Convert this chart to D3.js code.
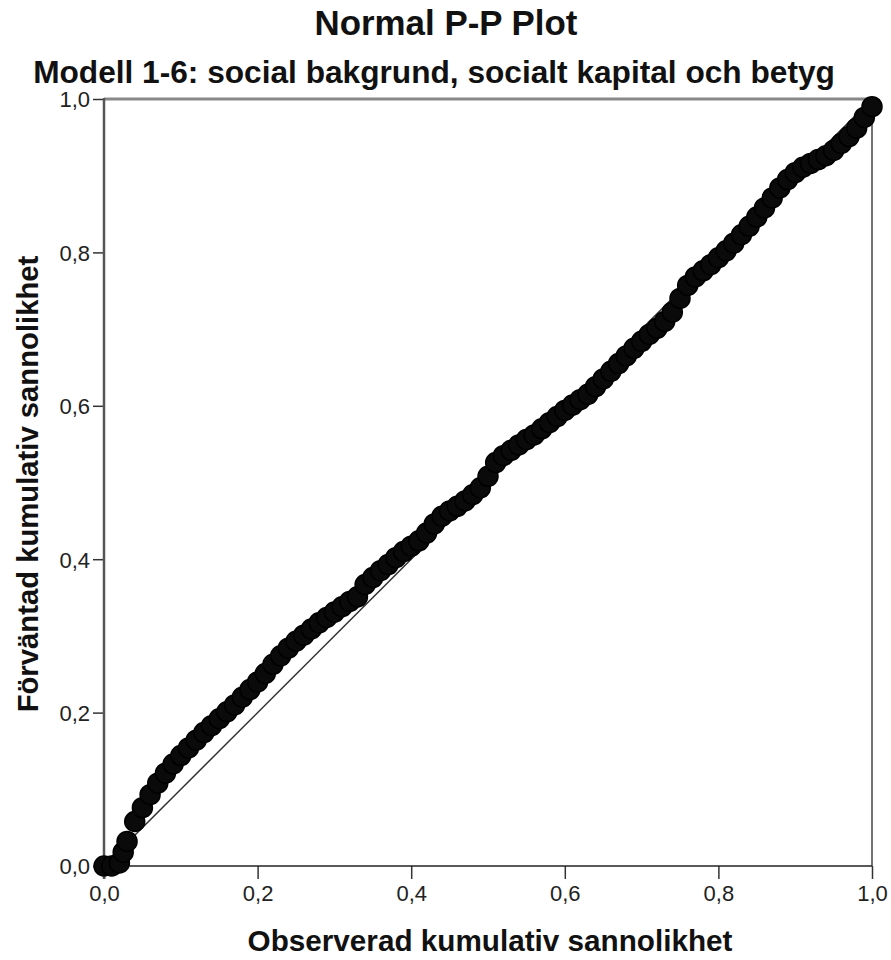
<!DOCTYPE html>
<html><head><meta charset="utf-8">
<script src="https://cdn.jsdelivr.net/npm/d3@7"></script>
<style>body{margin:0;background:#fff}svg{display:block}text{font-family:"Liberation Sans",Arial,sans-serif}</style>
</head><body>
<svg id="c" width="891" height="960"></svg>
<script>
const title = "Normal P-P Plot";
const subtitle = "Modell 1-6: social bakgrund, socialt kapital och betyg";
const xLabel = "Observerad kumulativ sannolikhet";
const yLabel = "Förväntad kumulativ sannolikhet";
const tickValues = [0, 0.2, 0.4, 0.6, 0.8, 1.0];
const tickLabels = ["0,0", "0,2", "0,4", "0,6", "0,8", "1,0"];

const observed = [0.00,0.01,0.02,0.025,0.03,0.04,0.05,0.06,0.07,0.08,0.09,
  0.10,0.11,0.12,0.13,0.14,0.15,0.16,0.17,0.18,0.19,
  0.20,0.21,0.22,0.23,0.24,0.25,0.26,0.27,0.28,0.29,
  0.30,0.31,0.32,0.33,0.34,0.35,0.36,0.37,0.38,0.39,
  0.40,0.41,0.42,0.43,0.44,0.45,0.46,0.47,0.48,0.49,
  0.50,0.51,0.52,0.53,0.54,0.55,0.56,0.57,0.58,0.59,
  0.60,0.61,0.62,0.63,0.64,0.65,0.66,0.67,0.68,0.69,
  0.70,0.71,0.72,0.73,0.74,0.75,0.76,0.77,0.78,0.79,
  0.80,0.81,0.82,0.83,0.84,0.85,0.86,0.87,0.88,0.89,
  0.90,0.91,0.92,0.93,0.94,0.95,0.96,0.97,0.98,0.99,1.00];
const expected = [0.000,0.000,0.004,0.018,0.032,0.058,0.076,0.093,0.108,0.121,0.133,
  0.144,0.154,0.164,0.174,0.183,0.192,0.201,0.210,0.220,0.230,
  0.240,0.251,0.263,0.274,0.284,0.293,0.301,0.309,0.317,0.324,
  0.331,0.338,0.345,0.351,0.367,0.376,0.385,0.393,0.402,0.410,
  0.417,0.424,0.434,0.446,0.456,0.463,0.469,0.476,0.484,0.493,
  0.508,0.526,0.535,0.542,0.549,0.556,0.562,0.570,0.578,0.586,
  0.594,0.601,0.608,0.615,0.625,0.635,0.645,0.655,0.665,0.675,
  0.684,0.693,0.701,0.710,0.722,0.740,0.757,0.768,0.776,0.784,
  0.793,0.802,0.812,0.823,0.834,0.846,0.858,0.871,0.884,0.895,
  0.904,0.911,0.916,0.921,0.926,0.933,0.942,0.951,0.962,0.976,0.990];

const svg = d3.select("#c");
const L = 104, R = 872, T = 99, B = 866;
const x = d3.scaleLinear().domain([0,1]).range([L,R]);
const y = d3.scaleLinear().domain([0,1]).range([B,T]);

function fitText(sel, w){
  const n = sel.node(); const cur = n.getComputedTextLength();
  const fs = parseFloat(sel.attr("font-size"));
  sel.attr("font-size", fs * w / cur);
}

// titles
const t1 = svg.append("text").attr("x", 446).attr("y", 35).attr("text-anchor","middle")
  .attr("font-size", 24).attr("font-weight","bold").attr("fill","#111").text(title);
fitText(t1, 263);
const t2 = svg.append("text").attr("x", 434).attr("y", 83).attr("text-anchor","middle")
  .attr("font-size", 24).attr("font-weight","bold").attr("fill","#111").text(subtitle);
fitText(t2, 802);

// axes
const xAxis = d3.axisBottom(x).tickValues(tickValues).tickSize(13).tickFormat((d,i)=>tickLabels[i]);
const yAxis = d3.axisLeft(y).tickValues(tickValues).tickSize(11).tickFormat((d,i)=>tickLabels[i]);
const gx = svg.append("g").attr("transform",`translate(0,${B})`).call(xAxis);
const gy = svg.append("g").attr("transform",`translate(${L},0)`).call(yAxis);
[gx, gy].forEach(g=>{
  g.select(".domain").remove();
  g.selectAll(".tick line").attr("stroke","#333").attr("stroke-width",1.5);
  g.selectAll(".tick text").attr("fill","#222").style("font-size","22px")
   .style("font-family",'"Liberation Sans",Arial,sans-serif');
});
gx.selectAll(".tick text").attr("dy","0.86em");
gy.selectAll(".tick text").attr("dx","0").attr("dy","0.36em");

// frame
svg.append("line").attr("x1",L).attr("x2",R+1).attr("y1",T).attr("y2",T).attr("stroke","#888").attr("stroke-width",3);
svg.append("line").attr("x1",R).attr("x2",R).attr("y1",T).attr("y2",B).attr("stroke","#444").attr("stroke-width",1.5);
svg.append("line").attr("x1",L).attr("x2",R).attr("y1",B).attr("y2",B).attr("stroke","#222").attr("stroke-width",1.5);
svg.append("line").attr("x1",L).attr("x2",L).attr("y1",T-1).attr("y2",B+13).attr("stroke","#555").attr("stroke-width",2.5);

// diagonal reference
svg.append("line").attr("x1",x(0)).attr("y1",y(0)).attr("x2",x(1)).attr("y2",y(1))
  .attr("stroke","#333").attr("stroke-width",1.5);

// points
const pts = observed.map((o,i)=>({o, e: expected[i]}));
svg.append("g").selectAll("circle").data(pts).join("circle")
  .attr("cx", d=>x(d.o)).attr("cy", d=>y(d.e)).attr("r", 10)
  .attr("fill","#0a0a0a").attr("stroke","#000").attr("stroke-width",1.5);

// axis titles
const xl = svg.append("text").attr("x", 490).attr("y", 951).attr("text-anchor","middle")
  .attr("font-size",24).attr("font-weight","bold").attr("fill","#111").text(xLabel);
fitText(xl, 485);
const yl = svg.append("text").attr("transform","translate(38,484) rotate(-90)").attr("text-anchor","middle")
  .attr("font-size",24).attr("font-weight","bold").attr("fill","#111").text(yLabel);
fitText(yl, 457);
</script>
</body></html>
